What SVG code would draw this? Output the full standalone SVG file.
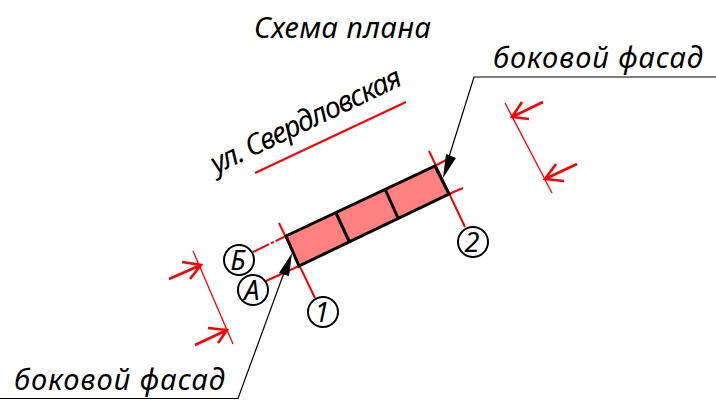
<svg xmlns="http://www.w3.org/2000/svg" width="716" height="405" viewBox="0 0 716 405">
<style>
text{font-family:"Noto Sans","Liberation Sans",sans-serif;font-style:italic;fill:#000}
.lbl{font-size:29px}
.ax{font-size:27px;text-anchor:middle}
.red{stroke:#f00;fill:none;stroke-width:2}
.thin{stroke:#f00;fill:none;stroke-width:1.3}
.arr{stroke:#f00;fill:none;stroke-width:2.6}
.bld{stroke:#000;fill:none;stroke-width:3}
.c{fill:#fff;stroke:#000;stroke-width:2}
.ld{stroke:#000;fill:none;stroke-width:1.2}
</style>
<rect width="716" height="405" fill="#fff"/>
<g id="connectors">
<path class="red" d="M279 223L315 298M429 151L465 227"/>
<path class="red" d="M253 252L286 236" stroke-dasharray="18 2 3 2"/>
<path class="red" d="M266 281L299 266M435 166L446 160M449 194L463 188"/>
<path class="red" d="M255 173L406 102"/>
<path class="thin" d="M193 251L233 344M505 103L552 193"/>
<path class="arr" d="M169 279L201 265M182 262L201 265L190 279M195 345L227 330M208 328L227 330L218 343"/>
<path class="arr" d="M543 102L512 117M522 102L512 117L529 119M577 164L545 179M556 164L545 179L564 181"/>
</g>
<g id="building">
<polygon points="286,236 435,166 449,194 299,266" fill="#ff8080"/>
<path class="bld" d="M286 236L435 166L449 194L299 266ZM336 213L349 241M385 189L398 218"/>
</g>
<g id="leaders">
<path class="ld" d="M716 77H474L448 160"/>
<polygon points="443,178 446,154 456,158" fill="#000"/>
<path class="ld" d="M0 398.5H238L285 270"/>
<polygon points="292,253 279,273 289,276" fill="#000"/>
</g>
<g id="axis-b"><circle class="c" cx="239" cy="260" r="15"/><text class="ax" x="238" y="270">Б</text></g>
<g id="axis-a"><circle class="c" cx="253" cy="290" r="15"/><text class="ax" x="252" y="300">А</text></g>
<g id="axis-1"><circle class="c" cx="323" cy="312" r="15"/><text class="ax" x="322" y="322">1</text></g>
<g id="axis-2"><circle class="c" cx="473" cy="242" r="15"/><text class="ax" x="472" y="252">2</text></g>
<text class="lbl" x="254" y="38" textLength="177">Схема плана</text>
<text class="lbl" x="493" y="68" textLength="210">боковой фасад</text>
<text class="lbl" x="14" y="390" textLength="211">боковой фасад</text>
<text class="lbl" transform="translate(216 174) rotate(-25.5)" textLength="208">ул. Свердловская</text>
</svg>
